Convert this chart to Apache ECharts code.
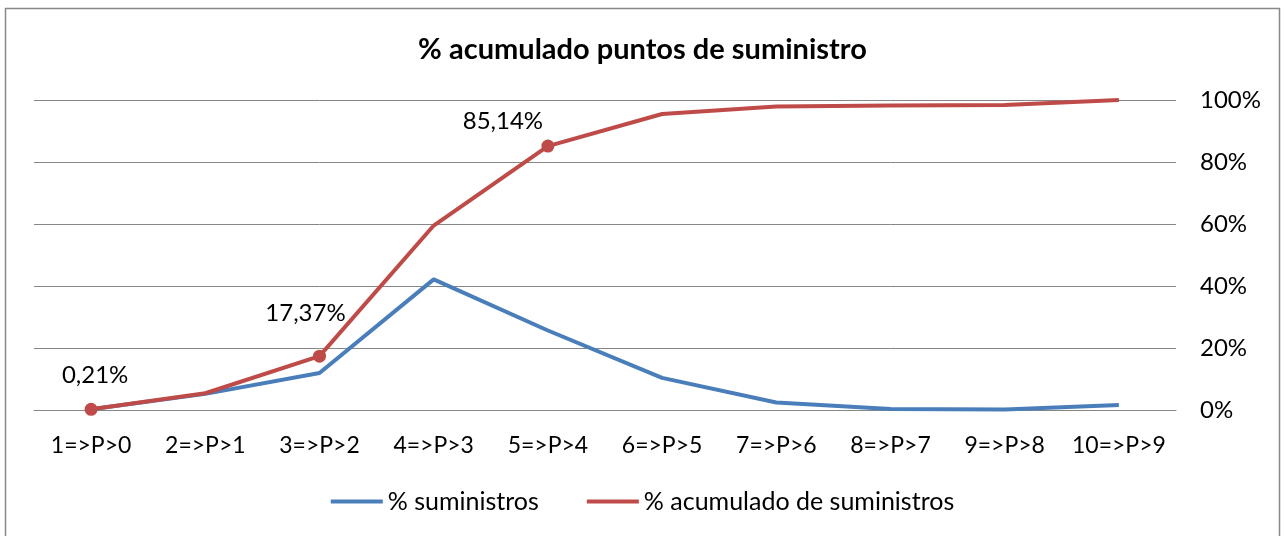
<!DOCTYPE html>
<html>
<head>
<meta charset="utf-8">
<script src="https://cdn.jsdelivr.net/npm/echarts@6/dist/echarts.min.js"></script>
<style>
  html, body { margin: 0; padding: 0; background: #fff; }
  #chart { width: 1285px; height: 536px; }
</style>
</head>
<body>
<div id="chart"></div>
<script>
// categories and values (percent)
const categories = ['1=>P>0', '2=>P>1', '3=>P>2', '4=>P>3', '5=>P>4', '6=>P>5', '7=>P>6', '8=>P>7', '9=>P>8', '10=>P>9'];
const suministros = [0.21, 5.2, 11.96, 42.13, 25.64, 10.36, 2.4, 0.3, 0.2, 1.6];
const acumulado = [0.21, 5.41, 17.37, 59.5, 85.14, 95.5, 97.9, 98.2, 98.4, 100];
const labelledPoints = [0, 2, 4];
const labelOffsets = [[4, -11], [-14, -19], [-45, -1]];
const yTicks = [0, 20, 40, 60, 80, 100];

const FONT = 'Lato, "Open Sans", sans-serif';
const BLUE = '#4A7EBB';
const RED = '#BE4B48';

const chart = echarts.init(document.getElementById('chart'));

const redData = acumulado.map((v, i) => {
  const k = labelledPoints.indexOf(i);
  if (k < 0) return { value: v, symbol: 'none' };
  return {
    value: v,
    symbol: 'circle',
    symbolSize: 13,
    label: {
      show: true,
      position: 'top',
      offset: labelOffsets[k],
      formatter: v.toFixed(2).replace('.', ',') + '%',
      color: '#000',
      fontFamily: FONT,
      fontSize: 24
    }
  };
});

chart.setOption({
  animation: false,
  title: {
    text: '% acumulado puntos de suministro',
    left: 'center',
    top: 30,
    textStyle: { fontFamily: FONT, fontWeight: 'bold', fontSize: 29, color: '#000' }
  },
  legend: {
    bottom: 17,
    left: 'center',
    icon: 'rect',
    itemWidth: 52,
    itemHeight: 4,
    itemGap: 48,
    textStyle: { fontFamily: FONT, fontSize: 25, color: '#000' },
    data: ['% suministros', '% acumulado de suministros']
  },
  grid: { left: 34, right: 109, top: 100, bottom: 126 },
  xAxis: {
    type: 'category',
    data: categories,
    boundaryGap: true,
    axisLine: { lineStyle: { color: '#868686', width: 1 } },
    axisTick: { show: false },
    axisLabel: { color: '#000', fontFamily: FONT, fontSize: 23, margin: 24, interval: 0 }
  },
  yAxis: {
    type: 'value',
    position: 'right',
    min: 0,
    max: 100,
    interval: 20,
    axisLine: { show: false },
    axisTick: { show: false },
    splitLine: { lineStyle: { color: '#868686', width: 1 } },
    axisLabel: {
      color: '#000', fontFamily: FONT, fontSize: 24, margin: 24,
      formatter: v => yTicks.includes(v) ? v + '%' : ''
    }
  },
  series: [
    {
      name: '% suministros',
      type: 'line',
      data: suministros,
      symbol: 'none',
      color: BLUE,
      lineStyle: { color: BLUE, width: 4 }
    },
    {
      name: '% acumulado de suministros',
      type: 'line',
      data: redData,
      color: RED,
      itemStyle: { color: RED },
      lineStyle: { color: RED, width: 4 }
    }
  ],
  graphic: [{
    type: 'rect',
    shape: { x: 5.5, y: 8.5, width: 1274, height: 540 },
    style: { fill: 'none', stroke: '#888', lineWidth: 1.5 },
    silent: true
  }]
});
</script>
</body>
</html>
